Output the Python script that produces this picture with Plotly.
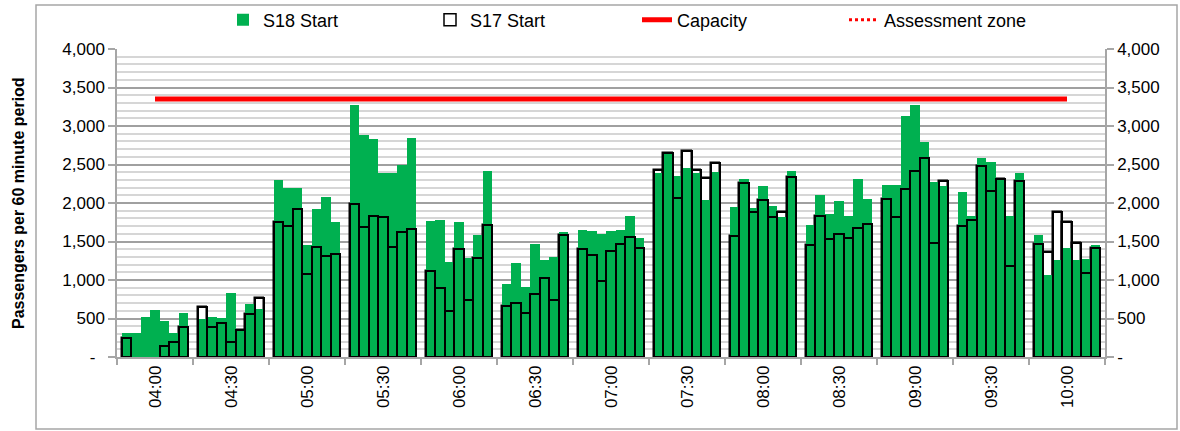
import plotly.graph_objects as go

# ---------------- data ----------------
period_labels = ["04:00", "04:30", "05:00", "05:30", "06:00", "06:30", "07:00",
                 "07:30", "08:00", "08:30", "09:00", "09:30", "10:00"]
bars_per_period = 7

# S18 Start (green), 7 values per half-hour period
s18_start = [
    307, 307, 515, 610, 468, 307, 567,        # 04:00
    489, 515, 502, 827, 351, 684, 623,        # 04:30
    2299, 2199, 2199, 1454, 1922, 2078, 1749, # 05:00
    3273, 2883, 2831, 2394, 2394, 2493, 2848, # 05:30
    1770, 1783, 1238, 1749, 1286, 1580, 2415, # 06:00
    952, 1225, 913, 1463, 1264, 1303, 1619,   # 06:30
    1649, 1641, 1597, 1636, 1649, 1831, 1550, # 07:00
    2385, 2658, 2355, 2459, 2385, 2039, 2398, # 07:30
    1948, 2307, 1931, 2221, 1957, 1823, 2420, # 08:00
    1719, 2100, 1853, 2026, 1827, 2312, 2048, # 08:30
    2238, 2238, 3130, 3273, 2796, 2273, 2225, # 09:00
    2147, 1831, 2580, 2528, 2307, 1835, 2390, # 09:30
    1580, 1069, 1260, 1420, 1260, 1273, 1454, # 10:00
]

# S17 Start (outline)
s17_start = [
    242, None, None, None, 147, 190, 394,     # 04:00
    645, 385, 446, 199, 351, 554, 762,        # 04:30
    1758, 1706, 1922, 1074, 1424, 1307, 1338, # 05:00
    1987, 1684, 1831, 1823, 1424, 1628, 1662, # 05:30
    1121, 896, 602, 1402, 744, 1290, 1714,    # 06:00
    666, 697, 575, 814, 1021, 744, 1584,      # 06:30
    1407, 1325, 983, 1377, 1463, 1563, 1420,  # 07:00
    2433, 2645, 2065, 2680, 2424, 2329, 2520, # 07:30
    1571, 2255, 1883, 2043, 1823, 1883, 2333, # 08:00
    1450, 1827, 1528, 1597, 1541, 1675, 1723, # 08:30
    2048, 1822, 2182, 2420, 2580, 1480, 2281, # 09:00
    1706, 1784, 2476, 2160, 2307, 1177, 2290, # 09:30
    1467, 1359, 1879, 1749, 1476, 1087, 1420, # 10:00
]

capacity = [3350] * len(period_labels)
assessment_zone = [3350] * len(period_labels)

y_tick_values = [0, 500, 1000, 1500, 2000, 2500, 3000, 3500, 4000]
y_tick_left = ["-\u00a0\u00a0", "500", "1,000", "1,500", "2,000", "2,500", "3,000", "3,500", "4,000"]
y_tick_right = ["-", "500", "1,000", "1,500", "2,000", "2,500", "3,000", "3,500", "4,000"]

# ---------------- layout helpers ----------------
slots = bars_per_period + 1
bar_x = [slots * (i // bars_per_period) + 1 + (i % bars_per_period) for i in range(len(s18_start))]
centers = [slots * k + bars_per_period / 2 + 0.5 for k in range(len(period_labels))]

FONT = "Liberation Sans, Arial, sans-serif"
GREEN = "#00b050"
AXIS_GREY = "#a6a6a6"

fig = go.Figure()

# white-filled S17 underlay (shows white where S17 > S18)
fig.add_trace(go.Bar(x=bar_x, y=s17_start, name="S17 Start", width=1,
                     marker=dict(color="white", line=dict(color="black", width=1.5)),
                     showlegend=True, legendrank=2))
fig.add_trace(go.Bar(x=bar_x, y=s18_start, name="S18 Start", width=1,
                     marker=dict(color=GREEN, line=dict(width=0)), legendrank=1))
# S17 outline on top
fig.add_trace(go.Bar(x=bar_x, y=s17_start, name="S17 Start", width=1,
                     marker=dict(color="rgba(0,0,0,0)", line=dict(color="black", width=2)),
                     showlegend=False))
fig.add_trace(go.Scatter(x=centers, y=assessment_zone, mode="lines", name="Assessment zone",
                         line=dict(color="#ff0000", width=3, dash="dot"), legendrank=4))
fig.add_trace(go.Scatter(x=centers, y=capacity, mode="lines", name="Capacity",
                         line=dict(color="#ff0000", width=5), legendrank=3))

# invisible trace to anchor the right axis
fig.add_trace(go.Scatter(x=[centers[0]], y=[0], yaxis="y2", mode="markers",
                         marker=dict(opacity=0), showlegend=False, hoverinfo="skip"))

L, R, T, B = 117, 75, 49, 74
W, H = 1180, 431
pw = W - L - R
ph = H - T - B

fig.update_layout(
    width=W, height=H,
    margin=dict(l=L, r=R, t=T, b=B, autoexpand=False),
    paper_bgcolor="white", plot_bgcolor="white",
    barmode="overlay", bargap=0,
    font=dict(family=FONT, size=17, color="black"),
    showlegend=True,
    legend=dict(orientation="h", x=(637 - L) / pw, xanchor="center", y=(ph + T - 20) / ph,
                yanchor="middle", font=dict(size=18), entrywidth=162, traceorder="normal",
                bgcolor="rgba(0,0,0,0)"),
    xaxis=dict(range=[0, slots * len(period_labels)], tickmode="array", tickvals=centers,
               ticktext=period_labels, tickangle=-90, ticks="", showgrid=False,
               showline=True, linecolor=AXIS_GREY, linewidth=1.5, zeroline=False,
               tickfont=dict(size=17), automargin=False,
               minor=dict(tick0=0, dtick=slots, ticks="outside", ticklen=6,
                          tickcolor=AXIS_GREY, tickwidth=1.5, showgrid=False)),
    yaxis=dict(range=[0, 4000], tickmode="array", tickvals=y_tick_values, ticktext=y_tick_left,
               ticks="outside", ticklen=7, tickcolor=AXIS_GREY, tickwidth=1.5,
               showline=True, linecolor=AXIS_GREY, linewidth=1.5, automargin=False,
               showgrid=True, gridcolor="#a0a0a0", gridwidth=1.5, zeroline=False,
               minor=dict(dtick=100, showgrid=True, gridcolor="#d6d6d6", gridwidth=2, ticks=""),
               tickfont=dict(size=17)),
    yaxis2=dict(range=[0, 4000], overlaying="y", side="right", tickmode="array",
                tickvals=y_tick_values, ticktext=y_tick_right, automargin=False,
                ticks="outside", ticklen=7, tickcolor=AXIS_GREY, tickwidth=1.5,
                showline=True, linecolor=AXIS_GREY, linewidth=1.5,
                showgrid=False, zeroline=False, tickfont=dict(size=17)),
)

# y-axis title
fig.add_annotation(text="<b>Passengers per 60 minute period</b>", textangle=-90,
                   xref="paper", yref="paper", x=(18 - L) / pw, y=0.5,
                   xanchor="center", yanchor="middle", showarrow=False,
                   font=dict(size=16, family=FONT))

# outer chart frame
fig.add_shape(type="rect", xref="paper", yref="paper",
              x0=(36 - L) / pw, x1=(1177 - L) / pw,
              y0=(T + ph - 429) / ph, y1=(T + ph - 5) / ph,
              line=dict(color="#a6a6a6", width=1.5), fillcolor="rgba(0,0,0,0)", layer="below")

fig.write_html(
    "out.html",
    config={"displayModeBar": False},
    post_script="document.body.style.margin='0';document.body.style.overflow='hidden';",
)
